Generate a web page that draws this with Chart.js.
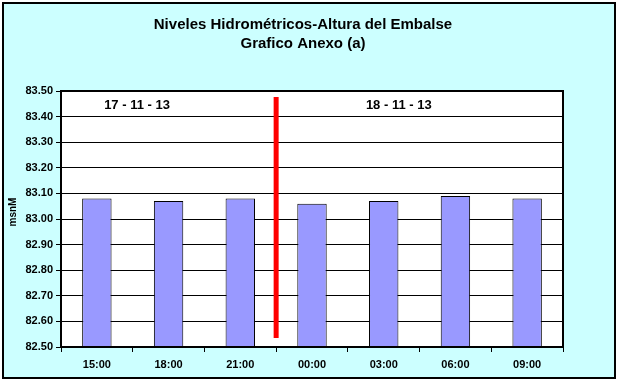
<!DOCTYPE html>
<html>
<head>
<meta charset="utf-8">
<script src="https://cdn.jsdelivr.net/npm/chart.js@4"></script>
<style>
  html, body { margin: 0; padding: 0; background: #fff; }
  #wrap { width: 620px; height: 385px; position: relative; }
</style>
</head>
<body>
<div id="wrap"><canvas id="nivelesChart" width="620" height="385"></canvas></div>
<script>
// data
var horas = ['15:00', '18:00', '21:00', '00:00', '03:00', '06:00', '09:00'];
var niveles = [83.08, 83.07, 83.08, 83.06, 83.07, 83.09, 83.08];
var fechas = ['17 - 11 - 13', '18 - 11 - 13'];
var fechaPos = [0.56, 4.21];      // category index (fractional)
var fechaNivel = [83.445, 83.445];
var corteEn = 2.5;                // between 21:00 and 00:00
var corteRango = [82.535, 83.477];

var FONT = '"Liberation Sans", Arial, sans-serif';

var fondoPlugin = {
  id: 'fondo',
  beforeDraw: function(chart) {
    var c = chart.ctx;
    c.save();
    c.fillStyle = '#ffffff';
    c.fillRect(0, 0, chart.width, chart.height);
    c.fillStyle = '#ccffff';
    c.fillRect(3, 3, 612, 375);
    c.strokeStyle = '#000';
    c.lineWidth = 2;
    c.strokeRect(3, 3, 612, 375);
    var a = chart.chartArea;
    c.fillStyle = '#ffffff';
    c.fillRect(a.left, a.top, a.right - a.left, a.bottom - a.top);
    c.fillStyle = '#000';
    c.textAlign = 'center';
    c.textBaseline = 'middle';
    c.font = 'bold 15px ' + FONT;
    c.fillText('Niveles Hidrométricos-Altura del Embalse', 303, 25);
    c.fillText('Grafico Anexo (a)', 303, 44);
    c.translate(13, 212);
    c.rotate(-Math.PI / 2);
    c.font = 'bold 10px ' + FONT;
    c.fillText('msnM', 0, 0);
    c.restore();
  },
  afterDraw: function(chart) {
    var c = chart.ctx;
    var a = chart.chartArea;
    var xs = chart.scales.x, ys = chart.scales.y;
    var step = xs.getPixelForValue(1) - xs.getPixelForValue(0);
    c.save();
    c.strokeStyle = '#000';
    c.lineWidth = 2;
    c.strokeRect(a.left, a.top, a.right - a.left, a.bottom - a.top);
    // separator line
    var xc = xs.getPixelForValue(0) + corteEn * step;
    c.strokeStyle = '#ff0000';
    c.lineWidth = 5;
    c.beginPath();
    c.moveTo(xc, ys.getPixelForValue(corteRango[1]));
    c.lineTo(xc, ys.getPixelForValue(corteRango[0]));
    c.stroke();
    // date labels
    c.fillStyle = '#000';
    c.font = 'bold 13px ' + FONT;
    c.textAlign = 'center';
    c.textBaseline = 'middle';
    fechas.forEach(function(f, i) {
      c.fillText(f, xs.getPixelForValue(0) + fechaPos[i] * step, ys.getPixelForValue(fechaNivel[i]));
    });
    c.restore();
  }
};

new Chart(document.getElementById('nivelesChart').getContext('2d'), {
  type: 'bar',
  data: {
    labels: horas,
    datasets: [{
      data: niveles,
      backgroundColor: '#9999ff',
      borderColor: '#000',
      borderWidth: 1,
      borderSkipped: false,
      barPercentage: 0.41,
      categoryPercentage: 1
    }]
  },
  options: {
    responsive: false,
    animation: false,
    layout: { padding: { left: 0, top: 91, right: 57, bottom: 0 } },
    plugins: { legend: { display: false }, tooltip: { enabled: false } },
    scales: {
      x: {
        afterFit: function(s) { s.height = 38; },
        grid: { offset: true, drawOnChartArea: false, drawTicks: true, tickLength: 5, color: '#000' },
        border: { display: false },
        ticks: { color: '#000', font: { family: FONT, size: 11, weight: 'bold' }, padding: 6, maxRotation: 0 }
      },
      y: {
        min: 82.5,
        max: 83.5,
        afterFit: function(s) { s.width = 61; },
        afterBuildTicks: function(s) {
          var t = [];
          for (var i = 0; i <= 10; i++) t.push({ value: Math.round((82.5 + i * 0.1) * 100) / 100 });
          s.ticks = t;
        },
        grid: { color: '#000', lineWidth: 1, drawTicks: true, tickLength: 5 },
        border: { display: false },
        ticks: {
          color: '#000',
          font: { family: FONT, size: 11, weight: 'bold' },
          padding: 3,
          callback: function(v) { return Number(v).toFixed(2); }
        }
      }
    }
  },
  plugins: [fondoPlugin]
});
</script>
</body>
</html>
